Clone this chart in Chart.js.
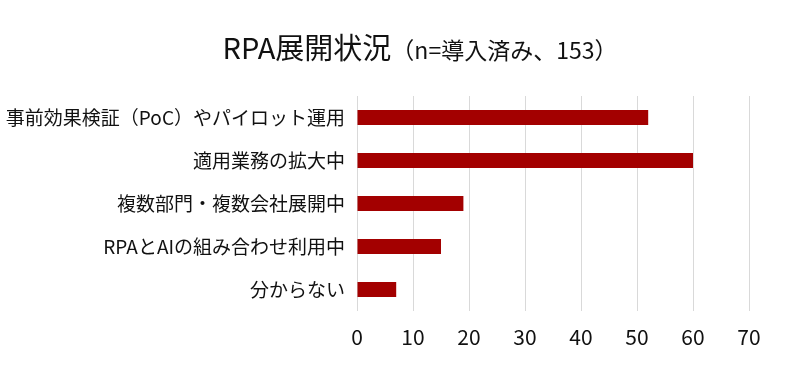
<!DOCTYPE html>
<html>
<head>
<meta charset="utf-8">
<script src="https://cdn.jsdelivr.net/npm/chart.js@4"></script>
<style>
html,body{margin:0;padding:0;background:#fff;}
#wrap{width:800px;height:371px;position:relative;}
</style>
</head>
<body>
<div id="wrap"><canvas id="c" width="800" height="371"></canvas></div>
<script>
const titleMain = "RPA展開状況";
const titleSub = "（n=導入済み、153）";
const categories = [
  "事前効果検証（PoC）やパイロット運用",
  "適用業務の拡大中",
  "複数部門・複数会社展開中",
  "RPAとAIの組み合わせ利用中",
  "分からない"
];
const values = [52, 60, 19, 15, 7];
const xTicks = [0, 10, 20, 30, 40, 50, 60, 70];

const FONT = "'Noto Sans CJK JP', 'Noto Sans', sans-serif";

const titlePlugin = {
  id: 'mixedTitle',
  afterDraw(chart) {
    const ctx = chart.ctx;
    ctx.save();
    ctx.fillStyle = '#111111';
    ctx.textBaseline = 'alphabetic';
    ctx.textAlign = 'left';
    ctx.font = "29px " + FONT;
    const w1 = ctx.measureText(titleMain).width;
    ctx.font = "23px " + FONT;
    const w2 = ctx.measureText(titleSub).width;
    const cx = 420;
    const x = cx - (w1 + w2) / 2;
    const y = 59;
    ctx.font = "29px " + FONT;
    ctx.fillText(titleMain, x, y);
    ctx.font = "23px " + FONT;
    ctx.fillText(titleSub, x + w1, y);
    ctx.restore();
  }
};

new Chart(document.getElementById('c'), {
  type: 'bar',
  data: {
    labels: categories,
    datasets: [{
      data: values,
      backgroundColor: '#a30000',
      borderWidth: 0,
      barPercentage: 0.35,
      categoryPercentage: 1.0
    }]
  },
  plugins: [titlePlugin],
  options: {
    indexAxis: 'y',
    responsive: false,
    animation: false,
    layout: { padding: { top: 96, right: 51, left: 0, bottom: 0 } },
    plugins: {
      legend: { display: false },
      title: { display: false },
      tooltip: { enabled: false }
    },
    scales: {
      x: {
        min: 0,
        max: 70,
        afterFit(scale) { scale.height = 60; },
        afterBuildTicks(scale) { scale.ticks = xTicks.map(v => ({ value: v })); },
        grid: { display: true, color: '#d9d9d9', lineWidth: 1, drawTicks: false },
        border: { display: false },
        ticks: {
          color: '#111111',
          font: { family: FONT, size: 21 },
          padding: 13
        }
      },
      y: {
        afterFit(scale) { scale.width = 357; },
        grid: { display: false, drawTicks: false },
        border: { display: false },
        ticks: {
          color: '#111111',
          font: { family: FONT, size: 19 },
          padding: 12
        }
      }
    }
  }
});
</script>
</body>
</html>
